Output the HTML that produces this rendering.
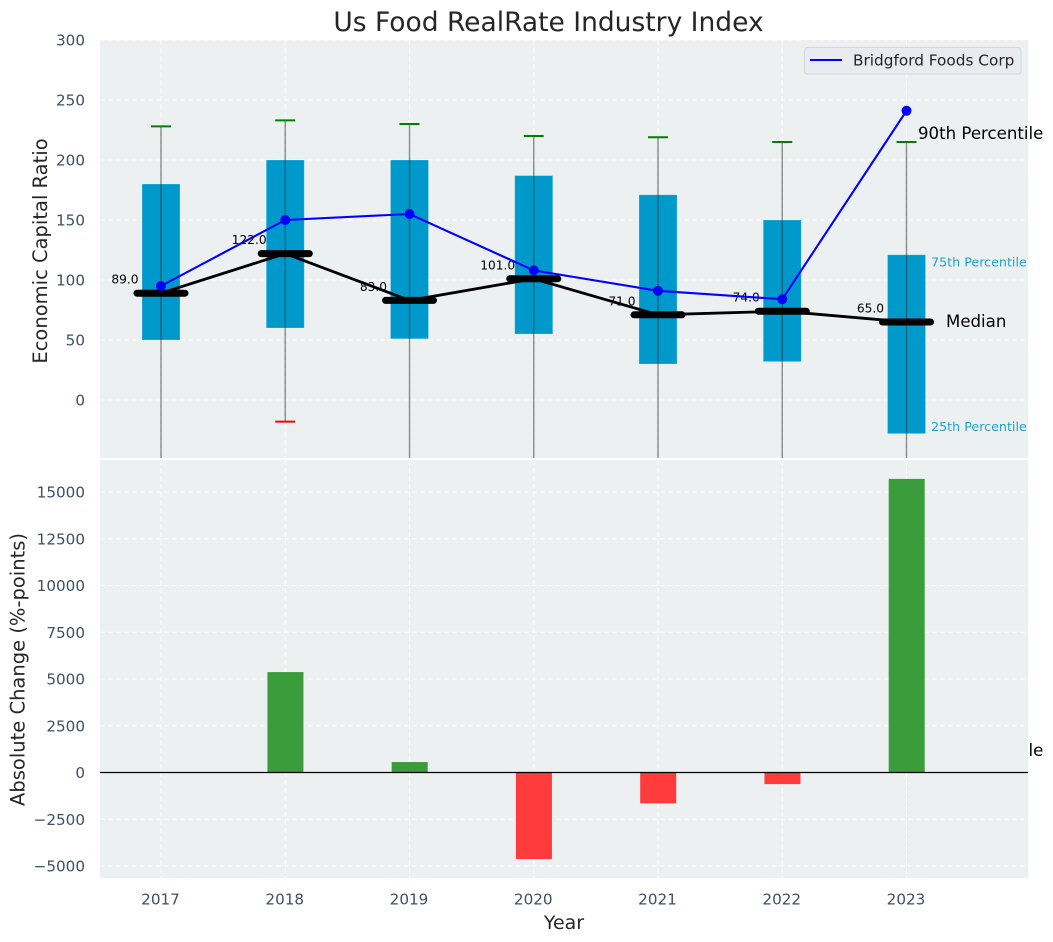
<!DOCTYPE html>
<html>
<head>
<meta charset="utf-8">
<title>Us Food RealRate Industry Index</title>
<style>
html,body{margin:0;padding:0;background:#fff;width:1053px;height:942px;overflow:hidden}
svg{display:block}
text{font-family:"DejaVu Sans","Liberation Sans",sans-serif}
</style>
</head>
<body>
<svg id="chart" xmlns="http://www.w3.org/2000/svg" width="1053" height="942" viewBox="0 0 1053 942">
  <defs>
    <clipPath id="top-clip"><rect x="100" y="40" width="928" height="418"/></clipPath>
    <clipPath id="bottom-clip"><rect x="100" y="460" width="928" height="418"/></clipPath>
  </defs>
  <text x="548.5" y="31" text-anchor="middle" font-size="26.5" fill="#262626">Us Food RealRate Industry Index</text>
  <rect x="100" y="40" width="928" height="418" fill="#ecf0f1"/>
  <g id="top-grid"></g>
  <g id="top-ticks"></g>
  <g id="top-marks" clip-path="url(#top-clip)"></g>
  <g id="median-labels"></g>
  <g id="median-marks"></g>
  <g id="company-marks"></g>
  <text x="918" y="756" font-size="16.6" fill="#000">10th Percentile</text>
  <rect x="100" y="460" width="928" height="418" fill="#ecf0f1"/>
  <g id="bottom-grid"></g>
  <g id="bottom-ticks"></g>
  <g id="x-ticks"></g>
  <g id="change-bars" clip-path="url(#bottom-clip)"></g>
  <line x1="100" x2="1028" y1="772.5" y2="772.5" stroke="#000" stroke-width="1.3"/>
  <text transform="translate(47 251) rotate(-90)" text-anchor="middle" font-size="19.5" fill="#262626">Economic Capital Ratio</text>
  <text transform="translate(24.5 669.5) rotate(-90)" text-anchor="middle" font-size="19.5" fill="#262626">Absolute Change (%-points)</text>
  <text x="564" y="929" text-anchor="middle" font-size="19" fill="#262626">Year</text>
  <text x="918" y="139" font-size="16.6" fill="#000">90th Percentile</text>
  <text x="946" y="327" font-size="16.6" fill="#000">Median</text>
  <text x="931" y="266.5" font-size="12.7" fill="#1fa3cf">75th Percentile</text>
  <text x="931" y="431" font-size="12.7" fill="#1fa3cf">25th Percentile</text>
  <g>
    <rect x="804.5" y="47.5" width="216.5" height="26.5" rx="3" fill="#e9ebf0" stroke="#d4d7dc" stroke-width="1"/>
    <line x1="810" x2="842" y1="60" y2="60" stroke="#0000ff" stroke-width="2"/>
    <text x="853" y="65.5" font-size="15.3" fill="#262626">Bridgford Foods Corp</text>
  </g>
</svg>
<script>
const years = [2017, 2018, 2019, 2020, 2021, 2022, 2023];
const p25 = [50, 60, 51, 55, 30, 32, -28];
const p75 = [180, 200, 200, 187, 171, 150, 121];
const p90 = [228, 233, 230, 220, 219, 215, 215];
const p10 = [-70, -18, -70, -70, -70, -70, -70];
const medians = [89, 122, 83, 101, 71, 74, 65];
const company = [95, 150, 155, 108, 91, 84, 241];
const changes = [0, 5370, 560, -4630, -1650, -620, 15700];
const topTicks = [0, 50, 100, 150, 200, 250, 300];
const bottomTicks = [-5000, -2500, 0, 2500, 5000, 7500, 10000, 12500, 15000];

const NS = 'http://www.w3.org/2000/svg';
function xPos(i) { return 161 + i * 124.25; }
function yTop(v) { return 400 - 1.2 * v; }
function yBottom(v) { return 772.5 - 0.0187 * v; }
function make(tag, attrs) {
  const el = document.createElementNS(NS, tag);
  for (const k in attrs) el.setAttribute(k, attrs[k]);
  return el;
}
function fmtTick(v) { return v < 0 ? '\u2212' + Math.abs(v) : String(v); }
const topGrid = document.getElementById('top-grid');
const bottomGrid = document.getElementById('bottom-grid');
const topTickGroup = document.getElementById('top-ticks');
const bottomTickGroup = document.getElementById('bottom-ticks');
const xTickGroup = document.getElementById('x-ticks');
const topMarks = document.getElementById('top-marks');
const labelGroup = document.getElementById('median-labels');
const medianGroup = document.getElementById('median-marks');
const companyGroup = document.getElementById('company-marks');
const barGroup = document.getElementById('change-bars');
const gridStyle = { stroke: '#ffffff', 'stroke-width': 1, 'stroke-dasharray': '5 3', 'stroke-opacity': 0.8 };

topTicks.forEach(function (t) {
  const g = make('line', Object.assign({ x1: 100, x2: 1028, y1: yTop(t), y2: yTop(t) }, gridStyle));
  
  
  topGrid.appendChild(g);
  const l = make('text', { x: 85, y: yTop(t) + 5.5, 'text-anchor': 'end', 'font-size': 15.2, fill: '#3d5066' });
  
  
  l.textContent = fmtTick(t);
  topTickGroup.appendChild(l);
});

bottomTicks.forEach(function (t) {
  const g = make('line', Object.assign({ x1: 100, x2: 1028, y1: yBottom(t), y2: yBottom(t) }, gridStyle));
  
  
  bottomGrid.appendChild(g);
  const l = make('text', { x: 85, y: yBottom(t) + 5.5, 'text-anchor': 'end', 'font-size': 15.2, fill: '#3d5066' });
  
  
  l.textContent = fmtTick(t);
  bottomTickGroup.appendChild(l);
});

years.forEach(function (yr, i) {
  const x = xPos(i);
  const g1 = make('line', Object.assign({ x1: x, x2: x, y1: 40, y2: 458 }, gridStyle));
  
  
  topGrid.appendChild(g1);
  const g2 = make('line', Object.assign({ x1: x, x2: x, y1: 460, y2: 878 }, gridStyle));
  
  
  bottomGrid.appendChild(g2);
  const l = make('text', { x: x - 0.5, y: 904.5, 'text-anchor': 'middle', 'font-size': 15.2, fill: '#3d5066' });
  
  
  l.textContent = String(yr);
  xTickGroup.appendChild(l);

  const box = make('rect', { x: x - 19, width: 38, y: yTop(p75[i]), height: yTop(p25[i]) - yTop(p75[i]), fill: '#0099cc', stroke: '#ffffff', 'stroke-opacity': 0.25, 'stroke-width': 0.8 });
  
  
  topMarks.appendChild(box);

  const whisker = make('line', { x1: x, x2: x, y1: yTop(p90[i]), y2: yTop(p10[i]), stroke: '#333333', 'stroke-opacity': 0.55, 'stroke-width': 1.4 });
  
  
  topMarks.appendChild(whisker);

  const capHigh = make('line', { x1: x - 10, x2: x + 10, y1: yTop(p90[i]), y2: yTop(p90[i]), stroke: '#008000', 'stroke-width': 2 });
  
  
  topMarks.appendChild(capHigh);

  const capLow = make('line', { x1: x - 10, x2: x + 10, y1: yTop(p10[i]), y2: yTop(p10[i]), stroke: '#ff0000', 'stroke-width': 2 });
  
  
  topMarks.appendChild(capLow);

  const val = make('text', { x: x - 36, y: yTop(medians[i]) - 9.5, 'text-anchor': 'middle', 'font-size': 12.2, fill: '#000000' });
  
  
  val.textContent = medians[i].toFixed(1);
  labelGroup.appendChild(val);

  const bar = make('rect', { x: x - 17.8, width: 36, y: Math.min(yBottom(0), yBottom(changes[i])), height: Math.abs(yBottom(changes[i]) - yBottom(0)), fill: changes[i] >= 0 ? '#3b9c3c' : '#ff3b3c' });
  
  
  barGroup.appendChild(bar);
});

const medianLine = make('polyline', { points: medians.map(function (v, i) { return xPos(i) + ',' + yTop(v); }).join(' '), fill: 'none', stroke: '#000000', 'stroke-width': 2.8 });


medianGroup.appendChild(medianLine);

medians.forEach(function (v, i) {
  const bar = make('line', { x1: xPos(i) - 24, x2: xPos(i) + 24, y1: yTop(v), y2: yTop(v), stroke: '#000000', 'stroke-width': 7, 'stroke-linecap': 'round' });
  
  
  medianGroup.appendChild(bar);
});

const companyLine = make('polyline', { points: company.map(function (v, i) { return xPos(i) + ',' + yTop(v); }).join(' '), fill: 'none', stroke: '#0000ff', 'stroke-width': 2.1 });


companyGroup.appendChild(companyLine);

company.forEach(function (v, i) {
  const dot = make('circle', { cx: xPos(i), cy: yTop(v), r: 5, fill: '#0000ff' });
  
  
  companyGroup.appendChild(dot);
});
</script>
</body>
</html>
